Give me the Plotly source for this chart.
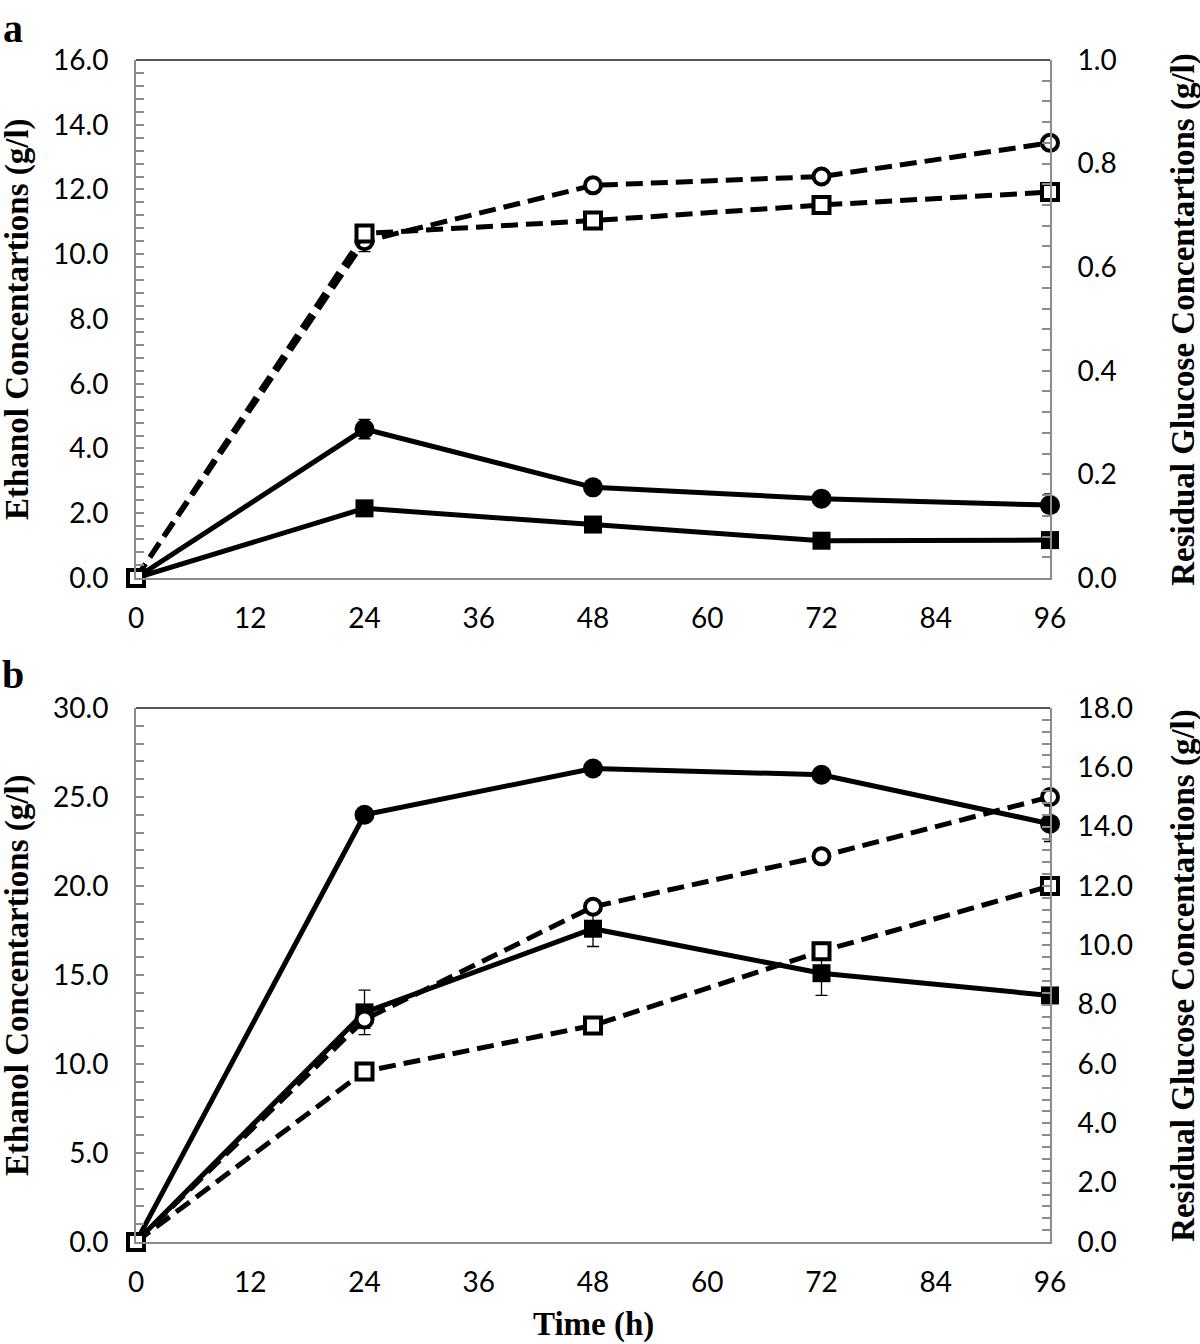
import plotly.graph_objects as go
from plotly.subplots import make_subplots

time_h = [0, 24, 48, 72, 96]

# panel a
a_eth_circle = [0.0, 4.6, 2.8, 2.45, 2.25]
a_eth_circle_err = [0.0, 0.3, 0.12, 0.2, 0.35]
a_eth_square = [0.0, 2.15, 1.65, 1.15, 1.17]
a_eth_square_err = [0.0, 0.1, 0.08, 0.08, 0.08]
a_glu_circle = [0.0, 0.65, 0.758, 0.775, 0.84]
a_glu_circle_err = [0.0, 0.02, 0.005, 0.005, 0.008]
a_glu_square = [0.0, 0.665, 0.69, 0.72, 0.745]
a_glu_square_err = [0.0, 0.01, 0.005, 0.005, 0.005]

# panel b
b_eth_circle = [0.0, 24.0, 26.6, 26.25, 23.5]
b_eth_circle_err = [0.0, 0.3, 0.3, 0.3, 1.0]
b_eth_square = [0.0, 12.9, 17.6, 15.1, 13.85]
b_eth_square_err = [0.0, 1.25, 1.0, 1.25, 0.3]
b_glu_circle = [0.0, 7.5, 11.3, 13.0, 15.0]
b_glu_circle_err = [0.0, 0.3, 0.2, 0.2, 0.2]
b_glu_square = [0.0, 5.75, 7.3, 9.8, 12.0]
b_glu_square_err = [0.0, 0.2, 0.2, 0.3, 0.2]

x_ticks = [0, 12, 24, 36, 48, 60, 72, 84, 96]

TICK_FONT = dict(family="Lato", size=28, color="black")
TITLE_FONT = dict(family="Liberation Serif", size=33, color="black")
AXIS_GRAY = "#8c8c8c"

fig = make_subplots(
    rows=2, cols=1,
    specs=[[{"secondary_y": True}], [{"secondary_y": True}]],
    vertical_spacing=0.11,
)


def add_series(y, err, row, secondary, symbol, dashed):
    line = dict(color="black", width=5)
    if dashed:
        line["dash"] = "17px,8px"
        marker = dict(symbol=symbol, size=16, color="white",
                      line=dict(color="black", width=4))
    else:
        size = 20 if symbol == "circle" else 18
        marker = dict(symbol=symbol, size=size, color="black",
                      line=dict(color="black", width=0))
    fig.add_trace(
        go.Scatter(
            x=time_h, y=y, mode="lines+markers",
            line=line, marker=marker,
            error_y=dict(type="data", array=err, color="black",
                         thickness=1.3, width=6),
            cliponaxis=False, showlegend=False,
        ),
        row=row, col=1, secondary_y=secondary,
    )


add_series(a_glu_circle, a_glu_circle_err, 1, True, "circle", True)
add_series(a_glu_square, a_glu_square_err, 1, True, "square", True)
add_series(a_eth_circle, a_eth_circle_err, 1, False, "circle", False)
add_series(a_eth_square, a_eth_square_err, 1, False, "square", False)

add_series(b_glu_circle, b_glu_circle_err, 2, True, "circle", True)
add_series(b_glu_square, b_glu_square_err, 2, True, "square", True)
add_series(b_eth_circle, b_eth_circle_err, 2, False, "circle", False)
add_series(b_eth_square, b_eth_square_err, 2, False, "square", False)

fig.update_xaxes(
    range=[0, 96], tickvals=x_ticks, ticks="", showgrid=False, zeroline=False,
    showline=True, linecolor=AXIS_GRAY, linewidth=2, mirror=False,
    tickfont=TICK_FONT, ticklabelstandoff=14, automargin=False,
)


def yaxis_style(rng, dtick, minor_dtick, fmt):
    return dict(
        range=rng, dtick=dtick, tick0=0, tickformat=fmt, showgrid=False,
        zeroline=False, showline=True, linecolor=AXIS_GRAY, linewidth=2,
        ticks="inside", ticklen=8, tickcolor=AXIS_GRAY, tickwidth=1.5,
        minor=dict(dtick=minor_dtick, tick0=0, ticks="inside", ticklen=8,
                   tickcolor=AXIS_GRAY, tickwidth=1.5, showgrid=False),
        tickfont=TICK_FONT, ticklabelstandoff=20, automargin=False,
    )


fig.update_yaxes(**yaxis_style([0, 16], 2, 0.4, ".1f"), row=1, col=1, secondary_y=False)
fig.update_yaxes(**yaxis_style([0, 1.0], 0.2, 0.04, ".1f"), row=1, col=1, secondary_y=True)
fig.update_yaxes(**yaxis_style([0, 30], 5, 1, ".1f"), row=2, col=1, secondary_y=False)
fig.update_yaxes(**yaxis_style([0, 18], 2, 0.4, ".1f"), row=2, col=1, secondary_y=True)

# exact domains for both panels
fig.update_layout(
    yaxis=dict(domain=[0.5618, 1.0]), yaxis2=dict(domain=[0.5618, 1.0]),
    yaxis3=dict(domain=[0.0, 0.4518]), yaxis4=dict(domain=[0.0, 0.4518]),
    xaxis=dict(domain=[0, 1]), xaxis2=dict(domain=[0, 1]),
)

# dark top border of each plot area
for y_top in [1.0, 0.4518]:
    fig.add_shape(type="line", xref="paper", yref="paper", x0=0, x1=1,
                  y0=y_top, y1=y_top, line=dict(color="#555555", width=2))

annotations = [
    dict(text="<b>a</b>", x=-0.135, y=1.027, font=dict(family="Liberation Serif", size=40)),
    dict(text="<b>b</b>", x=-0.135, y=0.4797, font=dict(family="Liberation Serif", size=40)),
    dict(text="<b>Ethanol Concentartions (g/l)</b>", x=-0.129, y=0.781, textangle=-90, font=TITLE_FONT),
    dict(text="<b>Residual Glucose Concentartions (g/l)</b>", x=1.1466, y=0.781, textangle=-90, font=TITLE_FONT),
    dict(text="<b>Ethanol Concentartions (g/l)</b>", x=-0.129, y=0.226, textangle=-90, font=TITLE_FONT),
    dict(text="<b>Residual Glucose Concentartions (g/l)</b>", x=1.1466, y=0.226, textangle=-90, font=TITLE_FONT),
    dict(text="<b>Time (h)</b>", x=0.5, y=-0.0702, font=dict(family="Liberation Serif", size=33)),
]
for ann in annotations:
    fig.add_annotation(xref="paper", yref="paper", showarrow=False,
                       xanchor="center", yanchor="middle", **ann)

fig.update_layout(
    width=1200, height=1344,
    margin=dict(l=136, r=150, t=60, b=102),
    plot_bgcolor="white", paper_bgcolor="white",
    font=dict(color="black"),
)

# drop the browser's default page margin so the figure sits at the window origin
fig.write_html(
    "out.html",
    config={"displayModeBar": False},
    post_script="document.body.style.margin='0';",
)
